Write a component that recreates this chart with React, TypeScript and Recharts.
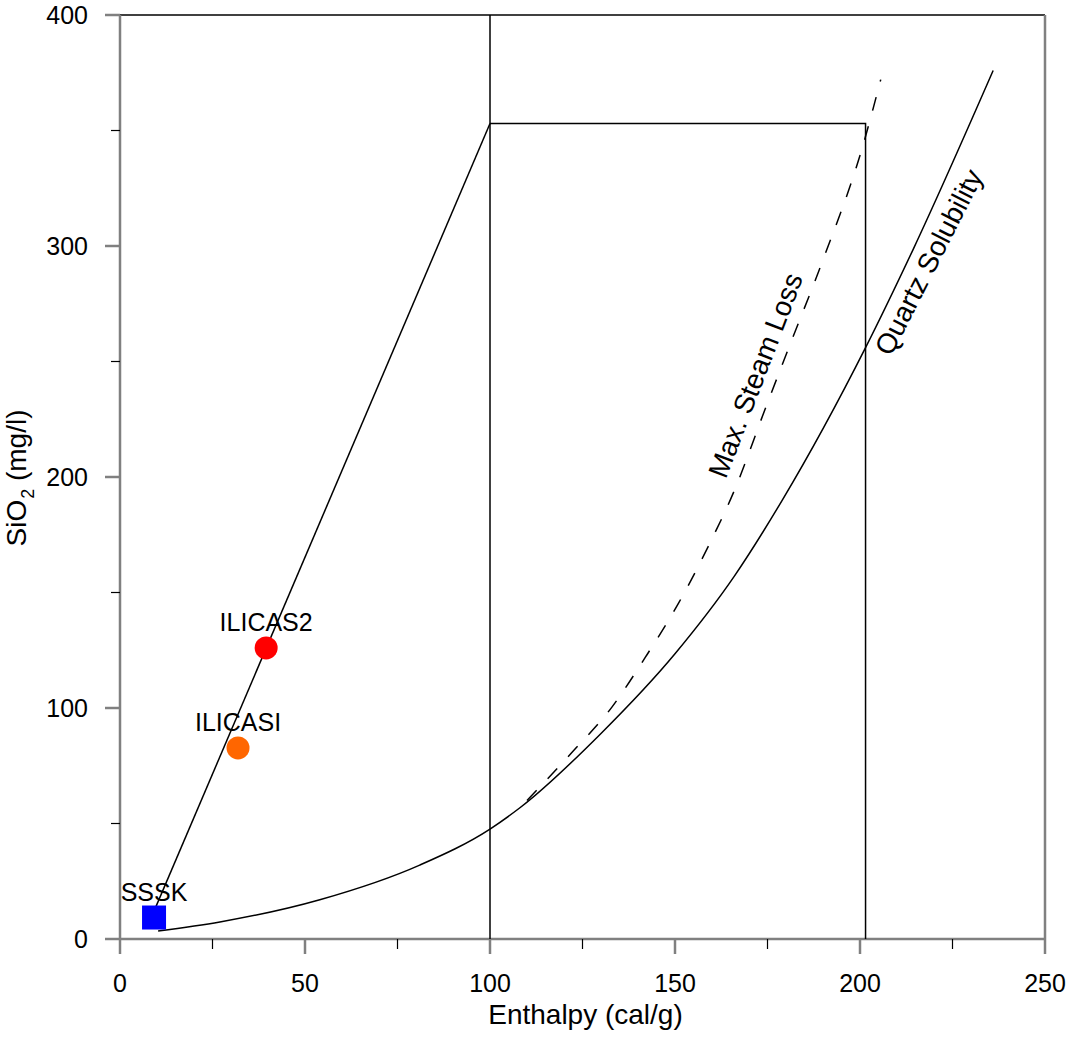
import { ScatterChart, Scatter, XAxis, YAxis, ReferenceLine, ReferenceDot, Label } from "recharts";

// samples
const sampleNames = ["SSSK", "ILICASI", "ILICAS2"];
const sampleEnthalpy = [9.2, 31.9, 39.5];
const sampleSilica = [9.3, 82.7, 126];
const sampleColors = ["#0000ff", "#ff6600", "#ff0000"];

// mixing line and boiling box
const mixingX = [8.3, 100];
const mixingY = [8.7, 353];
const boilingX = [100, 201.5, 201.5];
const boilingY = [353, 353, 0];
const hotLimitX = [100, 100];
const hotLimitY = [0, 400];

// quartz solubility curve
const quartzX = [10.3, 27, 54, 81, 100, 108, 130, 150, 166, 179, 201.5, 214.5, 236];
const quartzY = [3.5, 7.4, 17, 32, 47.6, 56.7, 89, 123.5, 157, 190, 256, 299, 376];

// max steam loss curve
const steamX = [110, 122, 133, 142, 151, 159, 166, 174.5, 181, 190, 200.7, 205.6];
const steamY = [60, 80.5, 100.5, 122, 145.5, 170, 194, 230, 257, 294, 343, 372];

const xTicks = [0, 25, 50, 75, 100, 125, 150, 175, 200, 225, 250];
const yTicks = [0, 50, 100, 150, 200, 250, 300, 350, 400];

const FONT = "'Liberation Sans', Arial, sans-serif";

const toPoints = (xs: number[], ys: number[]) => xs.map((x, i) => ({ x, y: ys[i] }));

const XTick = ({ x, y, payload }: any) => {
  const major = payload.value % 50 === 0;
  return (
    <g>
      <line x1={x} x2={x} y1={y} y2={y + (major ? 15 : 10)} stroke={major ? "#808080" : "#000"} strokeWidth={major ? 2.5 : 1.2} />
      {major && (
        <text x={x} y={y + 53} textAnchor="middle" fontSize={25} fontFamily={FONT} fill="#000">
          {payload.value}
        </text>
      )}
    </g>
  );
};

const YTick = ({ x, y, payload }: any) => {
  const major = payload.value % 100 === 0;
  return (
    <g>
      <line x1={x - (major ? 15 : 9)} x2={x} y1={y} y2={y} stroke={major ? "#808080" : "#000"} strokeWidth={major ? 2.5 : 1.2} />
      {major && (
        <text x={x - 32} y={y} dy="0.35em" textAnchor="end" fontSize={25} fontFamily={FONT} fill="#000">
          {payload.value}
        </text>
      )}
    </g>
  );
};

const RotLabel = ({ viewBox, text, rot }: any) => {
  const cx = viewBox.x + (viewBox.width || 0) / 2;
  const cy = viewBox.y + (viewBox.height || 0) / 2;
  return (
    <g transform={`rotate(${rot} ${cx} ${cy})`}>
      <text x={cx} y={cy} textAnchor="middle" dominantBaseline="central" fontSize={28} fontFamily={FONT} fill="#000">
        {text}
      </text>
    </g>
  );
};

const SampleShape = (props: any) => {
  const { cx, cy, payload } = props;
  const marker =
    payload.name === "SSSK" ? (
      <rect x={cx - 12} y={cy - 12} width={24} height={24} fill={payload.color} />
    ) : (
      <circle cx={cx} cy={cy} r={11.5} fill={payload.color} />
    );
  return (
    <g>
      {marker}
      <text x={cx} y={cy - 17} textAnchor="middle" fontSize={25} fontFamily={FONT} fill="#000">
        {payload.name}
      </text>
    </g>
  );
};

const Nothing = () => <g />;

export default function App() {
  const samples = sampleNames.map((name, i) => ({
    name,
    x: sampleEnthalpy[i],
    y: sampleSilica[i],
    color: sampleColors[i],
  }));
  const lineStyle = { stroke: "#000", strokeWidth: 1.5 };

  return (
    <div style={{ position: "absolute", left: 0, top: 0, background: "#fff" }}>
      <ScatterChart width={1069} height={1037} margin={{ top: 15, right: 24, left: 60, bottom: 58 }}>
        <XAxis
          type="number"
          dataKey="x"
          domain={[0, 250]}
          ticks={xTicks}
          interval={0}
          tickSize={0}
          tickMargin={0}
          tick={<XTick />}
          height={40}
          axisLine={{ stroke: "#808080", strokeWidth: 2.5 }}
          allowDataOverflow
        >
          <Label
            content={({ viewBox }: any) => (
              <text x={viewBox.x + viewBox.width / 2 + 3} y={viewBox.y + 85} textAnchor="middle" fontSize={28} fontFamily={FONT} fill="#000">
                Enthalpy (cal/g)
              </text>
            )}
          />
        </XAxis>
        <YAxis
          type="number"
          dataKey="y"
          domain={[0, 400]}
          ticks={yTicks}
          interval={0}
          tickSize={0}
          tickMargin={0}
          tick={<YTick />}
          width={60}
          axisLine={{ stroke: "#808080", strokeWidth: 2.5 }}
          allowDataOverflow
        >
          <Label
            content={({ viewBox }: any) => {
              const cy = viewBox.y + viewBox.height / 2 + 1;
              return (
                <g transform={`rotate(-90 26 ${cy})`}>
                  <text x={26} y={cy} textAnchor="middle" fontSize={28} fontFamily={FONT} fill="#000">
                    SiO
                    <tspan fontSize={18} dx={1} dy={8}>2</tspan>
                    <tspan dy={-8}> (mg/l)</tspan>
                  </text>
                </g>
              );
            }}
          />
        </YAxis>
        <ReferenceLine y={400} stroke="#000" strokeWidth={1.5} />
        <ReferenceLine x={250} stroke="#808080" strokeWidth={2.5} />

        <Scatter data={toPoints(hotLimitX, hotLimitY)} line={lineStyle} shape={<Nothing />} isAnimationActive={false} />
        <Scatter data={toPoints(boilingX, boilingY)} line={lineStyle} shape={<Nothing />} isAnimationActive={false} />
        <Scatter data={toPoints(mixingX, mixingY)} line={lineStyle} shape={<Nothing />} isAnimationActive={false} />
        <Scatter
          data={toPoints(quartzX, quartzY)}
          line={lineStyle}
          lineJointType="monotoneX"
          shape={<Nothing />}
          isAnimationActive={false}
        />
        <Scatter
          data={toPoints(steamX, steamY)}
          line={{ stroke: "#000", strokeWidth: 1.5, strokeDasharray: "14 16" }}
          lineJointType="monotoneX"
          shape={<Nothing />}
          isAnimationActive={false}
        />
        <Scatter data={samples} shape={<SampleShape />} isAnimationActive={false} />

        <ReferenceDot x={171.8} y={244} r={0} fill="none" stroke="none" label={<RotLabel text="Max. Steam Loss" rot={-69} />} />
        <ReferenceDot x={218.6} y={293} r={0} fill="none" stroke="none" label={<RotLabel text="Quartz Solubility" rot={-63} />} />
      </ScatterChart>
    </div>
  );
}
